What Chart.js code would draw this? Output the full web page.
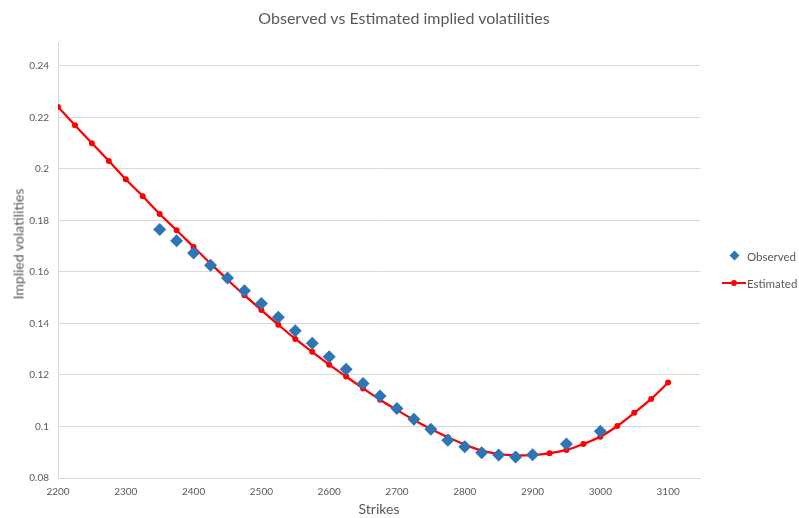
<!DOCTYPE html>
<html>
<head>
<meta charset="utf-8">
<script src="https://cdn.jsdelivr.net/npm/chart.js@4.4.1/dist/chart.umd.min.js"></script>
<style>
html,body{margin:0;padding:0;background:#fff;}
#wrap{position:relative;width:799px;height:518px;overflow:hidden;}
canvas{display:block;}
.txt{position:absolute;font-family:Lato,"Open Sans",sans-serif;color:#595959;white-space:nowrap;}
#title{left:404px;top:17px;font-size:16px;transform:translate(-50%,-50%);}
#ytitle{left:18px;top:244px;font-size:14px;transform:translate(-50%,-50%) rotate(-90deg);}
.lg{font-size:11.5px;transform:translateY(-50%);}
#lgObsMark{position:absolute;left:731px;top:252px;width:7px;height:7px;background:#2e75b6;transform:rotate(45deg);}
#lgEstLine{position:absolute;left:722px;top:282px;width:24px;height:2px;background:#ff0000;}
#lgEstDot{position:absolute;left:731px;top:280px;width:6px;height:6px;border-radius:50%;background:#ff0000;}
</style>
</head>
<body>
<div id="wrap">
<canvas id="c" width="799" height="518"></canvas>
<div id="title" class="txt">Observed vs Estimated implied volatilities</div>
<div id="ytitle" class="txt">Implied volatilities</div>
<div id="lgObsMark"></div>
<div class="txt lg" style="left:747px;top:256px;">Observed</div>
<div id="lgEstLine"></div>
<div id="lgEstDot"></div>
<div class="txt lg" style="left:747px;top:283px;">Estimated</div>
</div>
<script>
// ---- data ----
const estStrikes = [2200,2225,2250,2275,2300,2325,2350,2375,2400,2425,2450,2475,2500,2525,2550,2575,2600,2625,2650,2675,2700,2725,2750,2775,2800,2825,2850,2875,2900,2925,2950,2975,3000,3025,3050,3075,3100];
const estVols = [0.2241,0.2170,0.2100,0.2031,0.1960,0.1894,0.1825,0.1762,0.1697,0.1633,0.1570,0.1510,0.1452,0.1395,0.1340,0.1290,0.1240,0.1194,0.1148,0.1104,0.1064,0.1025,0.0990,0.0958,0.0930,0.0906,0.0893,0.0888,0.0889,0.0896,0.0909,0.0932,0.0960,0.1002,0.1053,0.1107,0.1171];
const obsStrikes = [2350,2375,2400,2425,2450,2475,2500,2525,2550,2575,2600,2625,2650,2675,2700,2725,2750,2775,2800,2825,2850,2875,2900,2950,3000];
const obsVols = [0.1765,0.1721,0.1674,0.1626,0.1577,0.1527,0.1478,0.1424,0.1372,0.1323,0.1271,0.1222,0.1167,0.1118,0.1070,0.1028,0.0989,0.0947,0.0921,0.0898,0.0889,0.0882,0.0890,0.0932,0.0982];
const xTicks = [2200,2300,2400,2500,2600,2700,2800,2900,3000,3100];
const xTickLabels = ['2200','2300','2400','2500','2600','2700','2800','2900','3000','3100'];
const yTicks = [0.08,0.10,0.12,0.14,0.16,0.18,0.20,0.22,0.24];
const yTickLabels = ['0.08','0.1','0.12','0.14','0.16','0.18','0.2','0.22','0.24'];

const FONT = 'Lato, "Open Sans", sans-serif';
const GREY = '#595959';
const GRID = '#d9d9d9';

function labelFor(ticks, labels) {
  return (v) => { const i = ticks.findIndex(t => Math.abs(t - v) < 1e-9); return i >= 0 ? labels[i] : ''; };
}

new Chart(document.getElementById('c'), {
  type: 'scatter',
  data: {
    datasets: [
      {
        label: 'Observed',
        data: obsStrikes.map((s, i) => ({x: s, y: obsVols[i]})),
        pointStyle: 'rectRot',
        pointRadius: 6.5,
        pointBackgroundColor: '#2e75b6',
        pointBorderColor: '#2e75b6',
        pointBorderWidth: 0,
        showLine: false
      },
      {
        label: 'Estimated',
        data: estStrikes.map((s, i) => ({x: s, y: estVols[i]})),
        showLine: true,
        borderColor: '#ff0000',
        borderWidth: 2.25,
        tension: 0.3,
        pointStyle: 'circle',
        pointRadius: 3,
        pointBackgroundColor: '#ff0000',
        pointBorderColor: '#ff0000',
        pointBorderWidth: 0
      }
    ]
  },
  options: {
    responsive: false,
    animation: false,
    devicePixelRatio: 1,
    layout: {padding: {left: 0, right: 99, top: 42, bottom: 0}},
    plugins: {
      legend: {display: false},
      tooltip: {enabled: false},
      title: {display: false}
    },
    scales: {
      x: {
        type: 'linear',
        min: 2200,
        max: 3147,
        afterBuildTicks: (scale) => { scale.ticks = xTicks.map(v => ({value: v})); },
        afterFit: (scale) => { scale.height = 40; },
        grid: {display: false, drawTicks: false},
        border: {display: true, color: GRID, width: 1},
        ticks: {color: GREY, font: {family: FONT, size: 10}, padding: 8, maxRotation: 0, autoSkip: false,
                callback: labelFor(xTicks, xTickLabels)},
        title: {display: true, text: 'Strikes', color: GREY, font: {family: FONT, size: 14}, padding: {top: 0, bottom: 0}}
      },
      y: {
        type: 'linear',
        min: 0.08,
        max: 0.2493,
        afterBuildTicks: (scale) => { scale.ticks = yTicks.map(v => ({value: v})); },
        afterFit: (scale) => { scale.width = 58; },
        grid: {display: true, color: GRID, lineWidth: 1, drawTicks: false},
        border: {display: true, color: GRID, width: 1},
        ticks: {color: GREY, font: {family: FONT, size: 10}, padding: 9, autoSkip: false,
                callback: labelFor(yTicks, yTickLabels)},
        title: {display: false}
      }
    }
  }
});
</script>
</body>
</html>
